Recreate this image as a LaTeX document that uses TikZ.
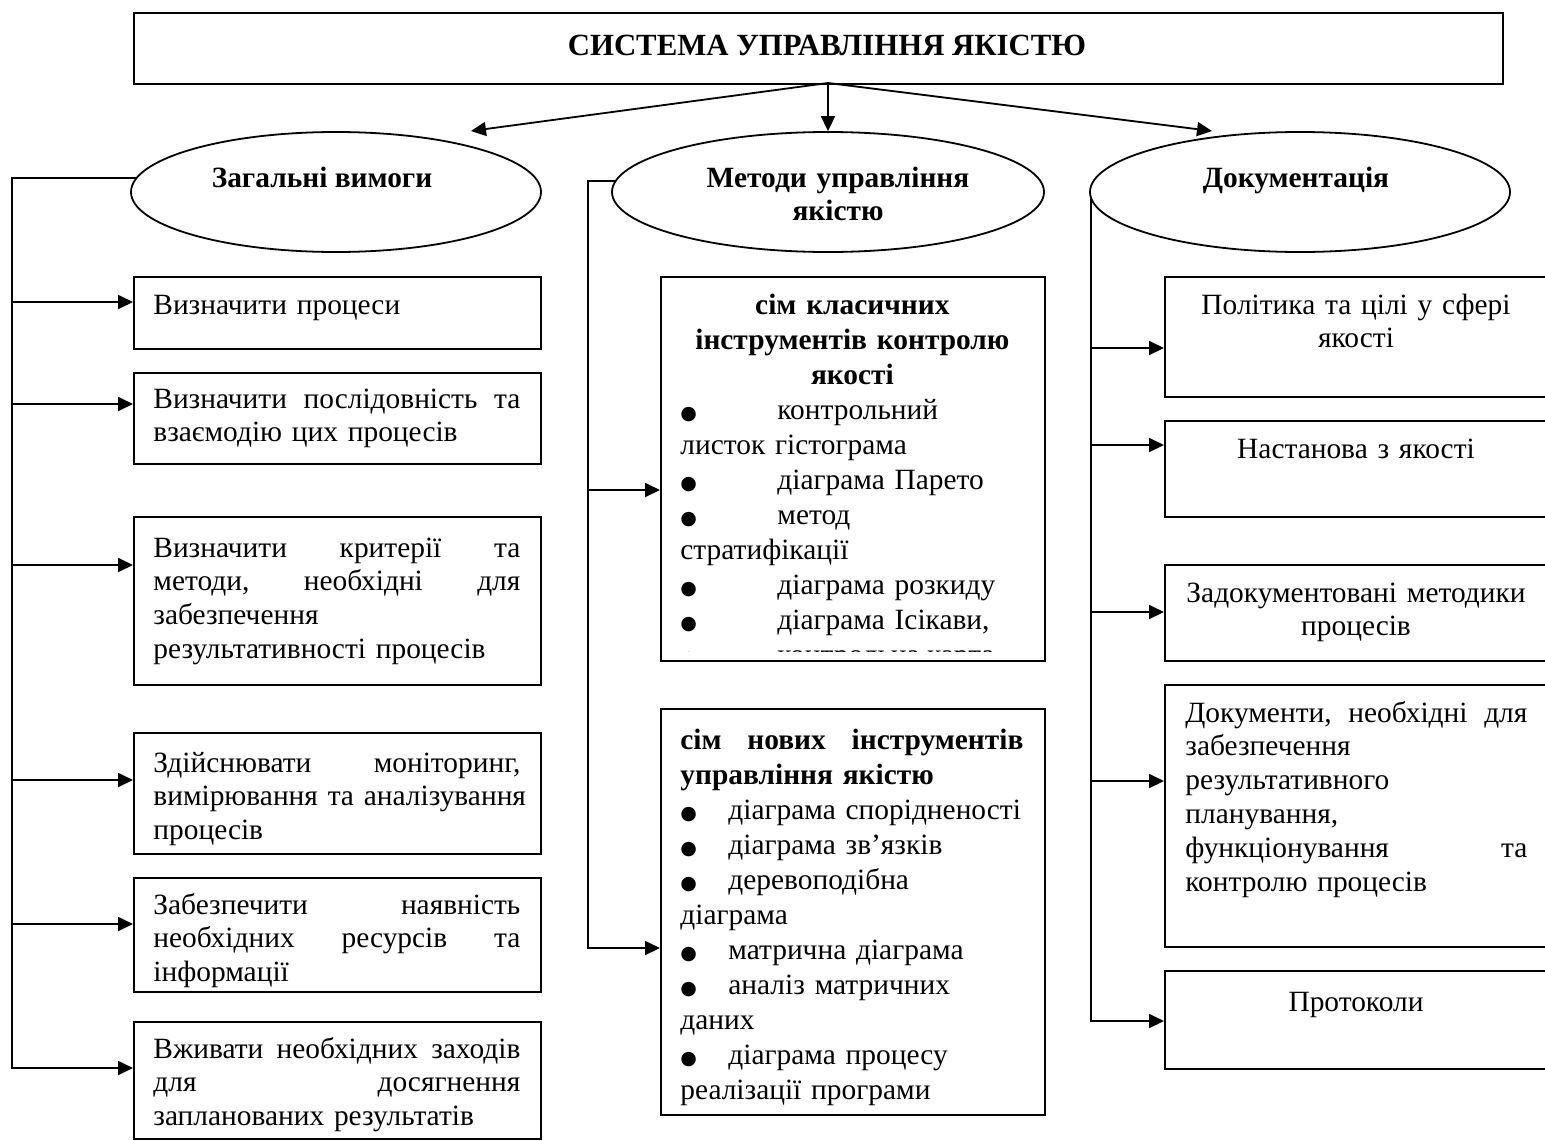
\documentclass[tikz,border=0pt]{standalone}
\usepackage{fontspec}
\setmainfont{Liberation Serif}
\newfontfamily\symf{DejaVu Sans}
\usetikzlibrary{shapes.geometric,arrows.meta}
\newcommand\mainsize{\fontsize{14.7pt}{16.9pt}\selectfont}
\newcommand\midsize{\fontsize{14.7pt}{17.5pt}\selectfont}
\newcommand\jl[2]{\makebox[#1][l]{#2}}
\newcommand\bul{{\symf\fontsize{9.5pt}{10pt}\selectfont ●}}
\newcommand\bA[1]{\makebox[48.5pt][l]{\bul}#1}
\newcommand\bB[1]{\makebox[24pt][l]{\bul}#1}
\tikzset{
  ln/.style={line width=0.9pt},
  arr/.style={ln, -{Triangle[length=7.5pt,width=7pt]}},
  box/.style={draw, ln, inner sep=0pt, anchor=north west},
  oval/.style={draw, ln, ellipse, inner sep=0pt},
  txt/.style={inner sep=0pt, font=\mainsize, align=left, anchor=base west},
  ctxt/.style={inner sep=0pt, font=\mainsize, align=center, anchor=base},
}
\begin{document}
\begin{tikzpicture}[x=0.5pt,y=-0.5pt]
\clip (0,0) rectangle (1545,1140);
\fill[white] (0,0) rectangle (1545,1140);
% title
\node[box, minimum width=684.5pt, minimum height=35.5pt] (title) at (133,12) {};
\node[ctxt, font=\fontsize{15.4pt}{18pt}\selectfont\bfseries] (titletext) at (827,55) {СИСТЕМА УПРАВЛІННЯ ЯКІСТЮ};
% ellipses
\node[oval, minimum width=205pt, minimum height=60pt] (e1) at (336,192) {};
\node[oval, minimum width=216pt, minimum height=60pt] (e2) at (828,192) {};
\node[oval, minimum width=210pt, minimum height=60pt] (e3) at (1300,192) {};
\node[ctxt, font=\mainsize\bfseries] (e1t) at (322,187) {Загальні вимоги};
\node[ctxt, font=\mainsize\bfseries, text width=150pt] (e2t) at (838,187) {Методи управління\\якістю};
\node[ctxt, font=\mainsize\bfseries] (e3t) at (1296,187) {Документація};
% title arrows
\coordinate (ts) at (828,83);
\coordinate (a1) at (471,131);
\coordinate (a3) at (1212,131);
\draw[arr] (ts) -- (a1);
\draw[arr] (ts) -- (e2.north);
\draw[arr] (ts) -- (a3);

% left column
\node[box, minimum width=203.5pt, minimum height=36pt] (L1) at (133,276) {};
\node[txt, text width=183.5pt] (L1t) at (153,314) {Визначити процеси};
\node[box, minimum width=203.5pt, minimum height=45.5pt] (L2) at (133,372) {};
\node[txt, text width=183.5pt] (L2t) at (153,408) {\jl{183.5pt}{Визначити \hfill послідовність \hfill та}\\взаємодію цих процесів};
\node[box, minimum width=203.5pt, minimum height=84pt] (L3) at (133,516) {};
\node[txt, text width=183.5pt] (L3t) at (153,557) {\jl{183.5pt}{Визначити \hfill критерії \hfill та}\\\jl{183.5pt}{методи, \hfill необхідні \hfill для}\\забезпечення\\результативності процесів};
\node[box, minimum width=203.5pt, minimum height=60.5pt] (L4) at (133,732) {};
\node[txt, text width=183.5pt] (L4t) at (153,772) {\jl{183.5pt}{Здійснювати \hfill моніторинг,}\\\jl{183.5pt}{вимірювання \hfill та \hfill аналізування}\\процесів};
\node[box, minimum width=203.5pt, minimum height=57pt] (L5) at (133,877) {};
\node[txt, text width=183.5pt] (L5t) at (153,914) {\jl{183.5pt}{Забезпечити \hfill наявність}\\\jl{183.5pt}{необхідних \hfill ресурсів \hfill та}\\інформації};
\node[box, minimum width=203.5pt, minimum height=58.5pt] (L6) at (133,1021) {};
\node[txt, text width=183.5pt] (L6t) at (153,1058) {\jl{183.5pt}{Вживати \hfill необхідних \hfill заходів}\\\jl{183.5pt}{для \hfill досягнення}\\запланованих результатів};
\coordinate (l1) at (12,302);
\coordinate (l2) at (12,404);
\coordinate (l3) at (12,565);
\coordinate (l4) at (12,780);
\coordinate (l5) at (12,924);
\coordinate (l6) at (12,1068);
\coordinate (lt0) at (e1.176.9 -| l1);
\draw[arr] (e1.176.9) -- (lt0) -- (l6) -- (l6 -| L6.west);
\draw[arr] (l1) -- (l1 -| L1.west);
\draw[arr] (l2) -- (l2 -| L2.west);
\draw[arr] (l3) -- (l3 -| L3.west);
\draw[arr] (l4) -- (l4 -| L4.west);
\draw[arr] (l5) -- (l5 -| L5.west);

% middle column
\node[box, minimum width=192pt, minimum height=192pt] (A) at (660,276) {};
\node[box, minimum width=192pt, minimum height=203pt] (B) at (660,708) {};
\node[txt, font=\midsize, text width=172pt] (At) at (680,314) {%
\makebox[172pt][c]{\bfseries сім класичних}\\
\makebox[172pt][c]{\bfseries інструментів контролю}\\
\makebox[172pt][c]{\bfseries якості}\\
\bA{контрольний}\\
листок гістограма\\
\bA{діаграма Парето}\\
\bA{метод}\\
стратифікації\\
\bA{діаграма розкиду}\\
\bA{діаграма Ісікави,}};
\begin{scope}
\clip (662,630) rectangle (1042,651.5);
\node[txt, font=\midsize] (Aclip) at (680,664) {\bA{контрольна карта}};
\end{scope}
\node[txt, font=\midsize, text width=171.5pt] (Bt) at (680,749) {%
\jl{171.5pt}{\bfseries сім \hfill нових \hfill інструментів}\\
\textbf{управління якістю}\\
\bB{діаграма спорідненості}\\
\bB{діаграма зв’язків}\\
\bB{деревоподібна}\\
діаграма\\
\bB{матрична діаграма}\\
\bB{аналіз матричних}\\
даних\\
\bB{діаграма процесу}\\
реалізації програми};
\coordinate (mt1) at (588,490);
\coordinate (mt2) at (588,948);
\coordinate (mt0) at (e2.177.3 -| mt1);
\draw[arr] (e2.177.3) -- (mt0) -- (mt2) -- (mt2 -| B.west);
\draw[arr] (mt1) -- (mt1 -| A.west);

% right column
\node[box, minimum width=192.5pt, minimum height=60pt] (R1) at (1164,276) {};
\node[ctxt, text width=185pt] (R1t) at (1356,314) {Політика та цілі у сфері\\якості};
\node[box, minimum width=192.5pt, minimum height=48pt] (R2) at (1164,420) {};
\node[ctxt, text width=185pt] (R2t) at (1356,458) {Настанова з якості};
\node[box, minimum width=192.5pt, minimum height=48pt] (R3) at (1164,564) {};
\node[ctxt, text width=185pt] (R3t) at (1356,602) {Задокументовані методики\\процесів};
\node[box, minimum width=192.5pt, minimum height=131pt] (R4) at (1164,684) {};
\node[txt, text width=171pt] (R4t) at (1185,722) {\jl{171pt}{Документи, \hfill необхідні \hfill для}\\забезпечення\\результативного\\планування,\\\jl{171pt}{функціонування \hfill та}\\контролю процесів};
\node[box, minimum width=192.5pt, minimum height=49pt] (R5) at (1164,970) {};
\node[ctxt, text width=185pt] (R5t) at (1356,1011) {Протоколи};
\coordinate (rtop) at (e3.182.3);
\coordinate (h1) at (0,348);
\coordinate (h2) at (0,445);
\coordinate (h3) at (0,612);
\coordinate (h4) at (0,781);
\coordinate (h5) at (0,1021);
\coordinate (r1) at (rtop |- h1);
\coordinate (r2) at (rtop |- h2);
\coordinate (r3) at (rtop |- h3);
\coordinate (r4) at (rtop |- h4);
\coordinate (r5) at (rtop |- h5);
\draw[arr] (rtop) -- (r5) -- (r5 -| R5.west);
\draw[arr] (r1) -- (r1 -| R1.west);
\draw[arr] (r2) -- (r2 -| R2.west);
\draw[arr] (r3) -- (r3 -| R3.west);
\draw[arr] (r4) -- (r4 -| R4.west);
\end{tikzpicture}
\end{document}
